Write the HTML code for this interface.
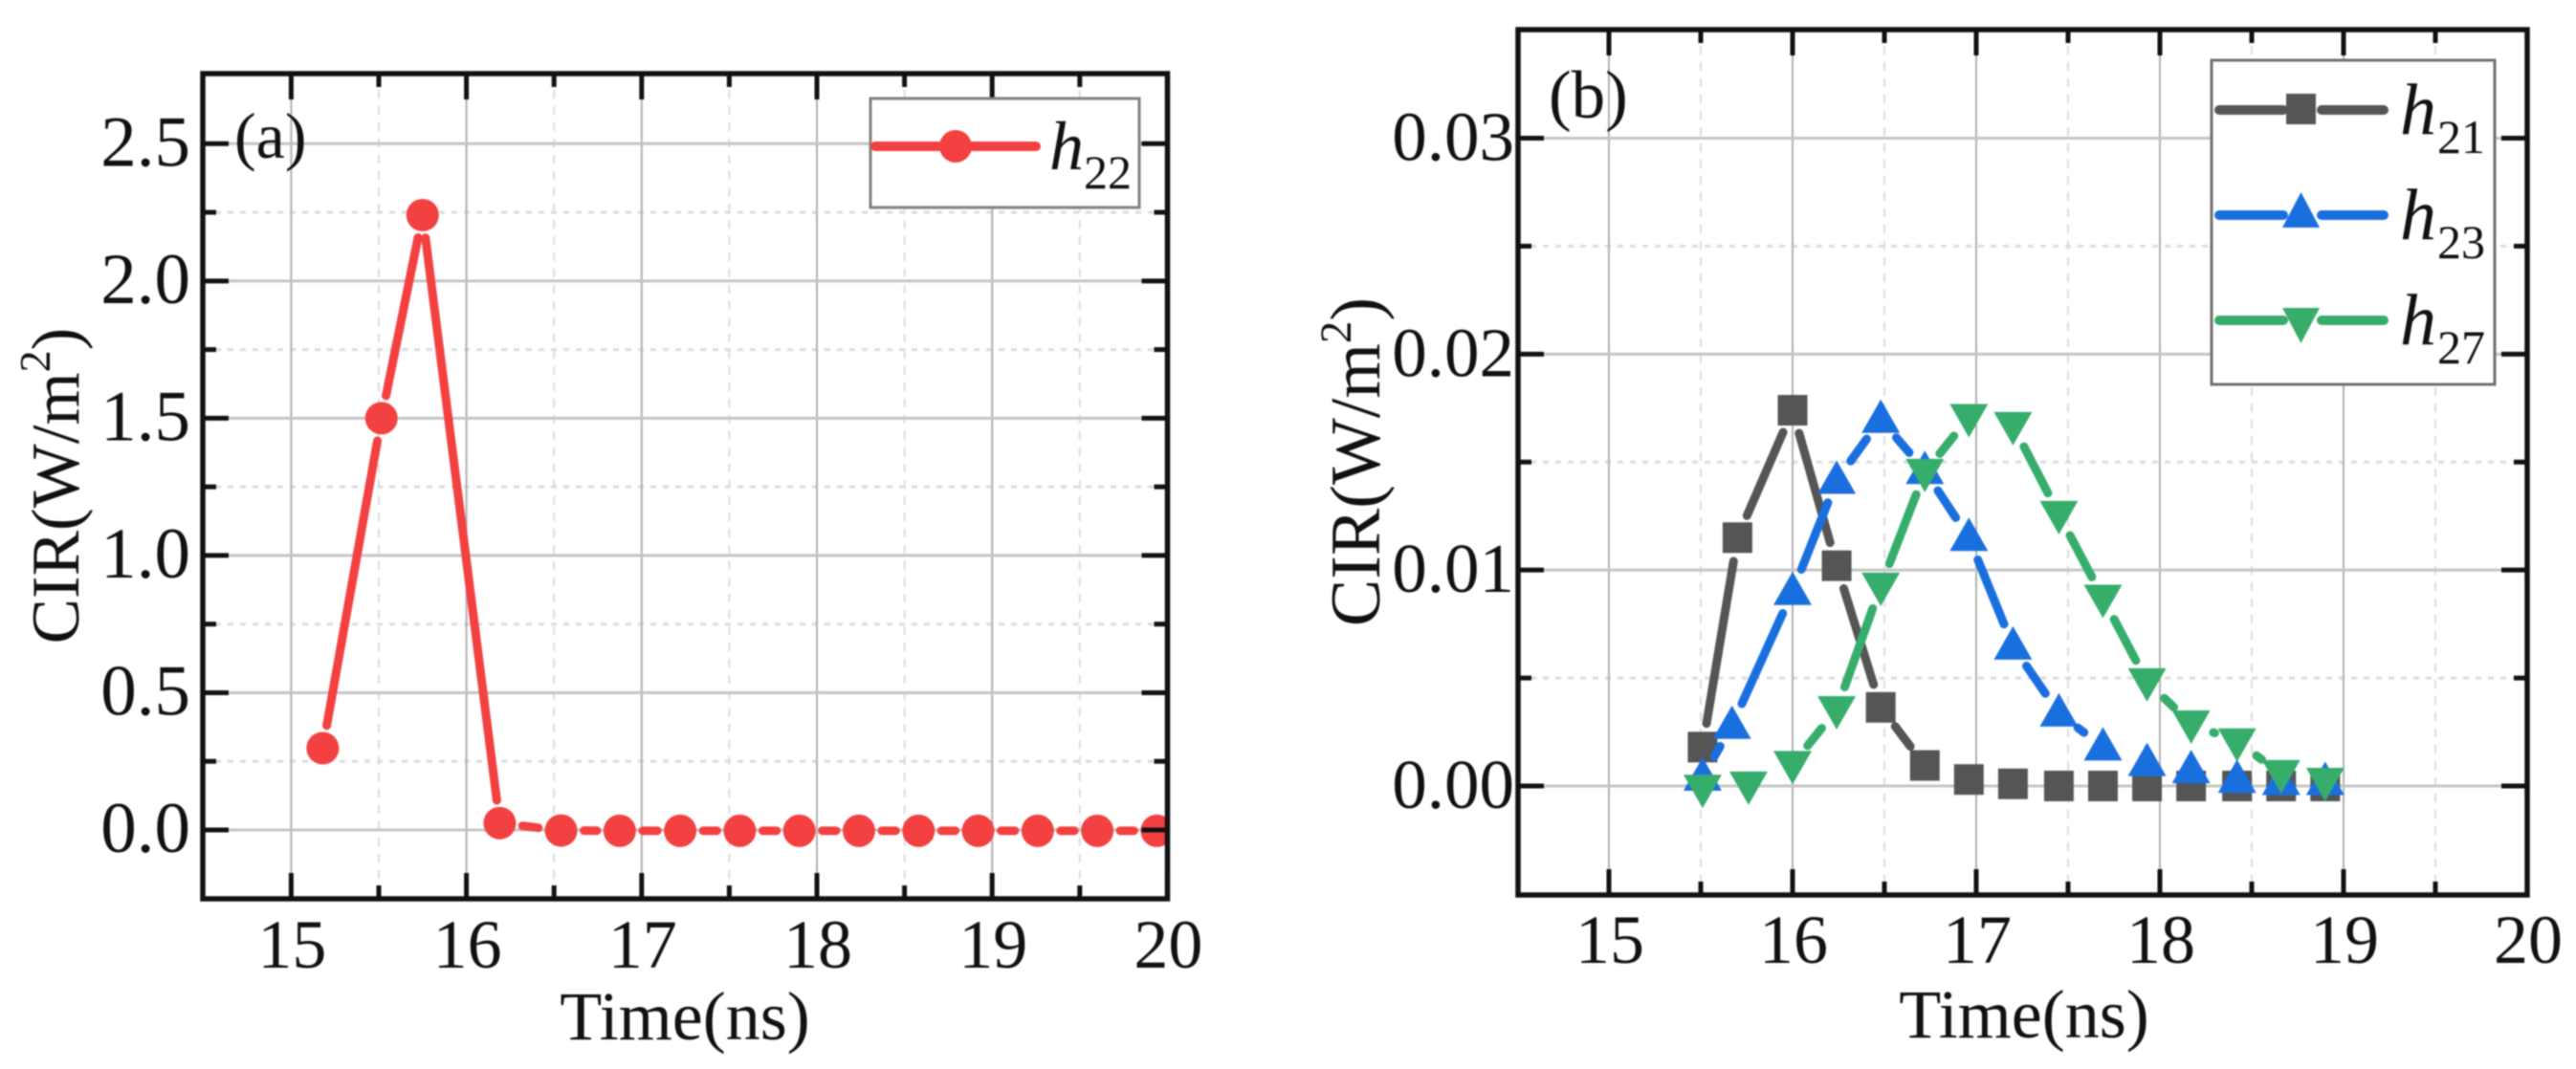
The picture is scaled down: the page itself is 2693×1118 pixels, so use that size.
<!DOCTYPE html>
<html lang="en">
<head>
<meta charset="utf-8">
<title>CIR versus time</title>
<style>
  html, body { margin: 0; padding: 0; background: #fff; overflow: hidden; }
  svg { display: block; filter: blur(0.7px); }
  text { font-family: "Liberation Serif", "Times New Roman", serif; fill: #111; }
</style>
</head>
<body>
<svg id="figure" xmlns="http://www.w3.org/2000/svg" width="2693" height="1118" viewBox="0 0 2693 1118">
  <defs>
    <clipPath id="clip-a"><rect x="212" y="77" width="1011" height="863"/></clipPath>
    <clipPath id="clip-b"><rect x="1587" y="31" width="1057" height="905"/></clipPath>
  </defs>
  <rect x="0" y="0" width="2693" height="1118" fill="#fff"/>

  <g id="panel-a"></g>
  <g id="panel-b"></g>

  <text x="716" y="1087" font-size="72" text-anchor="middle">Time(ns)</text>
  <text transform="translate(82,508) rotate(-90)" font-size="71" text-anchor="middle">CIR(W/m<tspan font-size="46" dy="-30">2</tspan><tspan dy="30">)</tspan></text>
  <text x="245" y="165" font-size="68">(a)</text>

  <text x="2116" y="1085" font-size="72" text-anchor="middle">Time(ns)</text>
  <text transform="translate(1442,483) rotate(-90)" font-size="74" text-anchor="middle">CIR(W/m<tspan font-size="47" dy="-30">2</tspan><tspan dy="30">)</tspan></text>
  <text x="1619" y="123" font-size="71">(b)</text>

  <g>
    <rect x="910" y="103" width="281" height="114" fill="#fff" stroke="#808080" stroke-width="3"/>
    <line x1="915" y1="153" x2="1083" y2="153" stroke="#f34040" stroke-width="10" stroke-linecap="round"/>
    <circle cx="999" cy="153" r="17" fill="#f34040"/>
    <text x="1097" y="177" font-size="72" font-style="italic">h</text>
    <text x="1133" y="197" font-size="50">22</text>
  </g>

  <g>
    <rect x="2312" y="63" width="296" height="339" fill="#fff" stroke="#707070" stroke-width="3"/>
    <line x1="2320" y1="115" x2="2387" y2="115" stroke="#555" stroke-width="10" stroke-linecap="round"/>
    <line x1="2427" y1="115" x2="2492" y2="115" stroke="#555" stroke-width="10" stroke-linecap="round"/>
    <rect x="2390" y="98" width="31" height="32" fill="#555"/>
    <text x="2509" y="140" font-size="76" font-style="italic">h</text>
    <text x="2548" y="160" font-size="50">21</text>

    <line x1="2320" y1="225" x2="2387" y2="225" stroke="#1a6fdf" stroke-width="10" stroke-linecap="round"/>
    <line x1="2427" y1="225" x2="2492" y2="225" stroke="#1a6fdf" stroke-width="10" stroke-linecap="round"/>
    <polygon points="2405.5,201 2386,238 2425,238" fill="#1a6fdf"/>
    <text x="2509" y="250" font-size="76" font-style="italic">h</text>
    <text x="2548" y="270" font-size="50">23</text>

    <line x1="2320" y1="335" x2="2387" y2="335" stroke="#37ad6b" stroke-width="10" stroke-linecap="round"/>
    <line x1="2427" y1="335" x2="2492" y2="335" stroke="#37ad6b" stroke-width="10" stroke-linecap="round"/>
    <polygon points="2405.5,359 2386,322 2425,322" fill="#37ad6b"/>
    <text x="2509" y="360" font-size="76" font-style="italic">h</text>
    <text x="2548" y="380" font-size="50">27</text>
  </g>
</svg>

<script>
// ---- Chart data ----
const xMajorTicks = [15, 16, 17, 18, 19, 20];
const xMinorTicks = [15.5, 16.5, 17.5, 18.5, 19.5];

const panelAYMajorTicks = [0, 0.5, 1, 1.5, 2, 2.5];
const panelAYMinorTicks = [0.25, 0.75, 1.25, 1.75, 2.25];
const panelAYTickLabels = ['0.0', '0.5', '1.0', '1.5', '2.0', '2.5'];

const panelBYMajorTicks = [0, 0.01, 0.02, 0.03];
const panelBYMinorTicks = [0.005, 0.015, 0.025];
const panelBYTickLabels = ['0.00', '0.01', '0.02', '0.03'];

const h22Time = [15.18, 15.515, 15.75, 16.19, 16.54, 16.875, 17.22, 17.56, 17.9, 18.24, 18.58, 18.92, 19.26, 19.6, 19.94];
const h22Values = [0.298, 1.5, 2.24, 0.025, -0.002, -0.003, -0.003, -0.003, -0.003, -0.003, -0.003, -0.003, -0.003, -0.003, -0.003];

const h21Time = [15.51, 15.7, 16, 16.24, 16.48, 16.72, 16.96, 17.2, 17.45, 17.69, 17.93, 18.17, 18.42, 18.66, 18.9];
const h21Values = [0.0018, 0.0115, 0.0174, 0.0102, 0.00364, 0.00095, 0.0003, 0.0001, 0, 0, 0, 0, 0, 0, 0];

const h23Time = [15.51, 15.67, 16, 16.24, 16.48, 16.72, 16.96, 17.2, 17.45, 17.69, 17.93, 18.17, 18.42, 18.66, 18.9];
const h23Values = [0.0004, 0.0028, 0.009, 0.01415, 0.01697, 0.0146, 0.0115, 0.00647, 0.00337, 0.0018, 0.00108, 0.00075, 0.0003, 0.0002, 0.0002];

const h27Time = [15.51, 15.76, 16, 16.24, 16.48, 16.72, 16.96, 17.2, 17.45, 17.69, 17.93, 18.17, 18.42, 18.66, 18.9];
const h27Values = [-0.0001, 0.00005, 0.001, 0.00354, 0.00926, 0.01453, 0.01707, 0.0167, 0.01258, 0.0087, 0.00483, 0.00288, 0.00205, 0.00058, 0.00022];

// ---- Helpers ----
const SVG_NS = 'http://www.w3.org/2000/svg';
function make(parent, tag, props) {
  const node = document.createElementNS(SVG_NS, tag);
  for (const key in props) node.setAttribute(key, props[key]);
  parent.appendChild(node);
  return node;
}
function linearScale(d0, d1, r0, r1) {
  return function (v) { return r0 + (v - d0) * (r1 - r0) / (d1 - d0); };
}

function drawAxes(g, prefix, box, sx, sy, xMaj, xMin, yMaj, yMin) {
  // grid
  xMin.forEach(function (v) {
    const gl = make(g, 'line', { x1: sx(v), x2: sx(v), y1: box.top, y2: box.bottom, stroke: '#dcdcdc', 'stroke-width': 2, 'stroke-dasharray': '9 8' });
    
    
  });
  yMin.forEach(function (v) {
    const gl = make(g, 'line', { x1: box.left, x2: box.right, y1: sy(v), y2: sy(v), stroke: '#dcdcdc', 'stroke-width': 3, 'stroke-dasharray': '6 7' });
    
    
  });
  xMaj.forEach(function (v) {
    const gl = make(g, 'line', { x1: sx(v), x2: sx(v), y1: box.top, y2: box.bottom, stroke: '#b0b0b0', 'stroke-width': 2 });
    
    
  });
  yMaj.forEach(function (v) {
    const gl = make(g, 'line', { x1: box.left, x2: box.right, y1: sy(v), y2: sy(v), stroke: '#c4c4c4', 'stroke-width': 3 });
    
    
  });
}

function drawFrame(g, prefix, box, sx, sy, xMaj, xMin, yMaj, yMin, yLabels, labelRight, xLabelY, yLabelSize) {
  const tickStyle = { stroke: '#111', 'stroke-width': 5 };
  function tick(x1, y1, x2, y2, name) {
    const t = make(g, 'line', Object.assign({ x1: x1, y1: y1, x2: x2, y2: y2 }, tickStyle));
    
    
  }
  xMaj.forEach(function (v) {
    tick(sx(v), box.bottom, sx(v), box.bottom - 27, prefix + '-x-major-tick');
    tick(sx(v), box.top, sx(v), box.top + 27, prefix + '-x-major-tick-top');
    const lab = make(g, 'text', { x: sx(v) + 1, y: xLabelY, 'font-size': 72, 'text-anchor': 'middle' });
    lab.textContent = String(v);
    
    
  });
  xMin.forEach(function (v) {
    tick(sx(v), box.bottom, sx(v), box.bottom - 14, prefix + '-x-minor-tick');
    tick(sx(v), box.top, sx(v), box.top + 14, prefix + '-x-minor-tick-top');
  });
  yMaj.forEach(function (v, i) {
    tick(box.left, sy(v), box.left + 27, sy(v), prefix + '-y-major-tick');
    tick(box.right, sy(v), box.right - 27, sy(v), prefix + '-y-major-tick-right');
    const lab = make(g, 'text', { x: labelRight, y: sy(v) + 23, 'font-size': yLabelSize, 'text-anchor': 'end' });
    lab.textContent = yLabels[i];
    
    
  });
  yMin.forEach(function (v) {
    tick(box.left, sy(v), box.left + 14, sy(v), prefix + '-y-minor-tick');
    tick(box.right, sy(v), box.right - 14, sy(v), prefix + '-y-minor-tick-right');
  });
  const frame = make(g, 'rect', { x: box.left, y: box.top, width: box.right - box.left, height: box.bottom - box.top, fill: 'none', stroke: '#111', 'stroke-width': 5.5 });
  
  
}

function drawSeries(g, name, xs, ys, sx, sy, color, gap, shape) {
  const pts = xs.map(function (x, i) { return [sx(x), sy(ys[i])]; });
  for (let i = 0; i < pts.length - 1; i++) {
    const dx = pts[i + 1][0] - pts[i][0], dy = pts[i + 1][1] - pts[i][1];
    const len = Math.hypot(dx, dy);
    if (len <= 2 * gap + 1) continue;
    const ux = dx / len, uy = dy / len;
    const seg = make(g, 'line', {
      x1: pts[i][0] + ux * gap, y1: pts[i][1] + uy * gap,
      x2: pts[i + 1][0] - ux * gap, y2: pts[i + 1][1] - uy * gap,
      stroke: color, 'stroke-width': 9, 'stroke-linecap': 'round'
    });
    
    
  }
  pts.forEach(function (p) {
    let m;
    if (shape === 'circle') {
      m = make(g, 'circle', { cx: p[0], cy: p[1], r: 17, fill: color });
    } else if (shape === 'square') {
      m = make(g, 'rect', { x: p[0] - 15.5, y: p[1] - 16, width: 31, height: 32, fill: color });
    } else if (shape === 'up') {
      m = make(g, 'polygon', { points: [p[0], p[1] - 21, p[0] - 20, p[1] + 14, p[0] + 20, p[1] + 14].join(' '), fill: color });
    } else {
      m = make(g, 'polygon', { points: [p[0], p[1] + 21, p[0] - 20, p[1] - 14, p[0] + 20, p[1] - 14].join(' '), fill: color });
    }
    
    
  });
}

// ---- Panel (a) ----
const gA = document.getElementById('panel-a');
const boxA = { left: 212, right: 1220.5, top: 77, bottom: 940 };
const sxA = linearScale(15, 20, 304.4, 1220.4);
const syA = linearScale(0, 2.5, 868, 150.3);
drawAxes(gA, 'panel-a', boxA, sxA, syA, xMajorTicks, xMinorTicks, panelAYMajorTicks, panelAYMinorTicks);
const dataA = make(gA, 'g', { 'clip-path': 'url(#clip-a)' });


drawSeries(dataA, 'h22', h22Time, h22Values, sxA, syA, '#f34040', 24, 'circle');
drawFrame(gA, 'panel-a', boxA, sxA, syA, xMajorTicks, xMinorTicks, panelAYMajorTicks, panelAYMinorTicks, panelAYTickLabels, 199, 1012, 75);

// ---- Panel (b) ----
const gB = document.getElementById('panel-b');
const boxB = { left: 1587, right: 2642, top: 31, bottom: 936 };
const sxB = linearScale(15, 20, 1682, 2642);
const syB = linearScale(0, 0.03, 822, 144.5);
drawAxes(gB, 'panel-b', boxB, sxB, syB, xMajorTicks, xMinorTicks, panelBYMajorTicks, panelBYMinorTicks);
const dataB = make(gB, 'g', { 'clip-path': 'url(#clip-b)' });


drawSeries(dataB, 'h21', h21Time, h21Values, sxB, syB, '#555555', 25, 'square');
drawSeries(dataB, 'h23', h23Time, h23Values, sxB, syB, '#1a6fdf', 25, 'up');
drawSeries(dataB, 'h27', h27Time, h27Values, sxB, syB, '#37ad6b', 25, 'down');
drawFrame(gB, 'panel-b', boxB, sxB, syB, xMajorTicks, xMinorTicks, panelBYMajorTicks, panelBYMinorTicks, panelBYTickLabels, 1583, 1007, 73);
</script>
</body>
</html>
